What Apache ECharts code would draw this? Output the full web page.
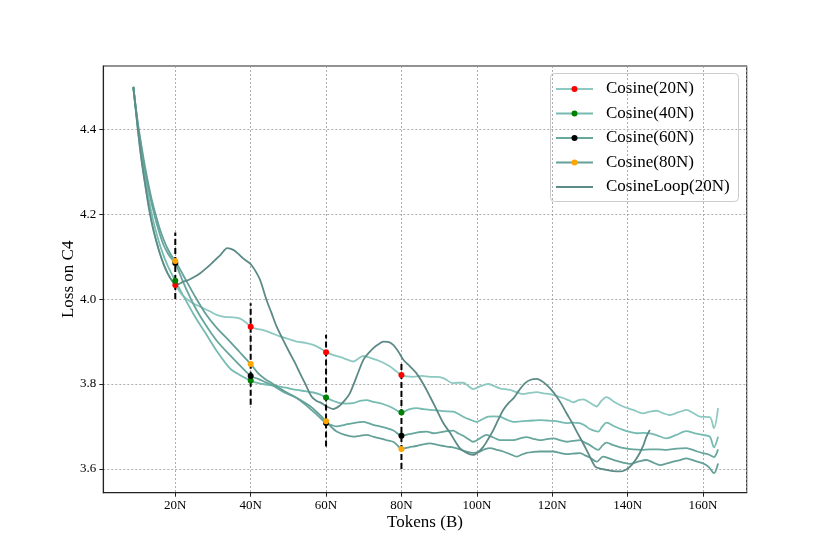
<!DOCTYPE html>
<html>
<head>
<meta charset="utf-8">
<script src="https://cdn.jsdelivr.net/npm/echarts@6/dist/echarts.min.js"></script>
<style>html,body{margin:0;padding:0;background:#fff}#chart{width:830px;height:554px}</style>
</head>
<body>
<div id="chart"></div>
<script>
// ---------- DATA ----------
const seriesNames = ['Cosine(20N)', 'Cosine(40N)', 'Cosine(60N)', 'Cosine(80N)', 'CosineLoop(20N)'];
const xTickLabels = ['20N', '40N', '60N', '80N', '100N', '120N', '140N', '160N'];
const yTickLabels = ['3.6', '3.8', '4.0', '4.2', '4.4'];

const cos20 = [[8.86,4.50],[9.5,4.45],[10,4.405],[11,4.33],[12,4.27],[13,4.215],[14,4.17],[15,4.135],[16,4.105],[17,4.08],[18,4.06],[19,4.045],[20,4.033],[21,4.02],[22,4.008],[24,3.994],[26.6,3.982],[29,3.972],[31,3.963],[33,3.958],[35.4,3.957],[37.2,3.954],[38.6,3.946],[40,3.935],[41.5,3.93],[43.3,3.927],[45.5,3.92],[47.8,3.912],[50,3.906],[52.2,3.900],[54.5,3.897],[56.6,3.892],[58.5,3.884],[60,3.875],[62,3.868],[63.7,3.864],[65.5,3.858],[67.2,3.853],[68.6,3.86],[69.9,3.866],[71.6,3.862],[73.4,3.857],[75.2,3.85],[77,3.841],[78.6,3.83],[80,3.821],[81.5,3.818],[83.1,3.817],[85.4,3.819],[87.6,3.817],[89.2,3.817],[91.1,3.814],[93.7,3.802],[95,3.803],[96.4,3.803],[97.8,3.795],[99,3.788],[101,3.795],[103,3.80],[104.6,3.795],[106.1,3.79],[108.8,3.786],[110.5,3.781],[112.3,3.776],[114,3.779],[115.9,3.781],[117.7,3.778],[119.4,3.776],[121.1,3.772],[122.9,3.767],[124.3,3.762],[125.6,3.757],[127,3.762],[128.2,3.764],[130,3.756],[131.8,3.747],[133,3.76],[134.4,3.769],[136.6,3.757],[138.8,3.747],[141.5,3.739],[144.1,3.731],[145.9,3.735],[147.7,3.737],[149.5,3.731],[151.2,3.727],[153.4,3.733],[155.6,3.739],[157.5,3.731],[159.2,3.723],[161.8,3.722],[162.9,3.696],[164,3.743]];

const cos40 = [[8.86,4.50],[10,4.41],[11,4.345],[12,4.29],[13,4.235],[14,4.19],[15,4.155],[16,4.125],[17,4.10],[18,4.078],[19,4.06],[20,4.043],[22,4.01],[25,3.962],[28,3.92],[31,3.878],[34.5,3.837],[37,3.822],[40,3.808],[41.5,3.803],[43.3,3.80],[45.5,3.797],[47.8,3.794],[50,3.79],[52.2,3.786],[54.5,3.783],[56.6,3.780],[58.5,3.775],[60,3.768],[62,3.76],[63.7,3.755],[65.5,3.754],[67.2,3.755],[69,3.76],[70.8,3.762],[72.5,3.758],[74.3,3.755],[76,3.75],[77.8,3.743],[80,3.733],[82,3.74],[84,3.743],[85.8,3.741],[87.6,3.739],[89.3,3.738],[91,3.736],[93.7,3.735],[96.4,3.723],[98.2,3.716],[99.9,3.711],[101.5,3.717],[103,3.723],[104.5,3.724],[106.1,3.723],[107.9,3.716],[109.7,3.711],[111.5,3.712],[113.2,3.713],[115,3.714],[116.7,3.715],[118.5,3.714],[120.3,3.713],[122,3.711],[123.8,3.708],[125.5,3.709],[127.3,3.708],[128.7,3.702],[130,3.694],[132.2,3.688],[133.3,3.70],[134.4,3.709],[136.6,3.700],[138.8,3.692],[140.6,3.687],[142.4,3.684],[144.2,3.685],[145.9,3.684],[148.1,3.678],[150.3,3.672],[152.9,3.68],[155.6,3.689],[157.8,3.684],[160,3.680],[161.8,3.676],[162.9,3.651],[164,3.676]];

const cos60 = [[8.86,4.50],[10,4.415],[11,4.355],[12,4.30],[13,4.255],[14,4.215],[15,4.18],[16,4.15],[17,4.125],[18,4.108],[19,4.095],[20,4.085],[22,4.042],[25,3.985],[28,3.94],[31,3.902],[34.5,3.868],[37,3.845],[40,3.819],[42,3.812],[44,3.804],[46,3.796],[48,3.785],[50,3.776],[52,3.768],[54,3.755],[56,3.74],[58,3.724],[60,3.708],[61.5,3.703],[62.8,3.700],[65,3.704],[67.2,3.708],[69.9,3.711],[72.5,3.704],[74.3,3.70],[76.1,3.696],[78,3.69],[80,3.678],[81.5,3.681],[83.1,3.684],[85,3.687],[86.7,3.688],[88.5,3.684],[90.2,3.686],[92,3.689],[93.7,3.69],[95,3.684],[96.4,3.678],[97.8,3.670],[99,3.664],[100.8,3.672],[102.6,3.680],[104.4,3.674],[106.1,3.668],[107.9,3.668],[109.7,3.668],[111.5,3.672],[113.2,3.675],[115,3.671],[116.7,3.668],[118.5,3.670],[120.3,3.672],[122,3.668],[123.8,3.664],[125.6,3.666],[127.3,3.668],[128.7,3.662],[130,3.656],[132.2,3.645],[133.3,3.655],[134.4,3.662],[136.2,3.656],[138,3.651],[139.8,3.648],[141.5,3.646],[143.7,3.645],[145.9,3.646],[148.1,3.646],[150.3,3.645],[153,3.648],[155.6,3.649],[157.8,3.643],[160,3.637],[161.5,3.634],[162.9,3.628],[164,3.646]];

const cos80 = [[8.86,4.50],[10,4.42],[11,4.362],[12,4.31],[13,4.265],[14,4.225],[15,4.192],[16,4.162],[17,4.138],[18,4.118],[19,4.102],[20,4.09],[22,4.058],[25,4.01],[28,3.966],[31,3.932],[34.5,3.90],[37,3.876],[40,3.847],[42,3.825],[43.8,3.812],[45.6,3.802],[47.4,3.792],[49.1,3.782],[50.9,3.774],[52.6,3.765],[54.4,3.756],[56.2,3.745],[58,3.73],[60,3.712],[61.5,3.698],[62.8,3.688],[65,3.68],[67.2,3.676],[69,3.678],[70.8,3.680],[72.5,3.676],[74.3,3.672],[76,3.668],[77.8,3.664],[79,3.655],[80,3.647],[82,3.651],[84,3.654],[85.8,3.658],[87.6,3.660],[89.3,3.657],[91.1,3.654],[92.4,3.652],[93.7,3.651],[95.5,3.646],[97.3,3.641],[99,3.638],[100.8,3.641],[102,3.646],[103.5,3.649],[105.3,3.645],[107,3.641],[108.8,3.635],[110.6,3.629],[112,3.634],[113.2,3.638],[115,3.640],[116.7,3.641],[118.5,3.641],[120.3,3.641],[122,3.638],[123.8,3.635],[125.5,3.636],[127.3,3.637],[128.7,3.632],[130,3.627],[131.8,3.617],[133.5,3.629],[135.3,3.624],[137.1,3.619],[138.8,3.615],[140.6,3.612],[142.8,3.617],[145,3.621],[146.8,3.615],[148.6,3.609],[150.4,3.613],[152.1,3.617],[153.9,3.621],[155.6,3.625],[157.8,3.619],[160,3.613],[161.5,3.605],[162.9,3.590],[164,3.613]];

const cosLoop20 = [[8.86,4.50],[10,4.405],[11,4.33],[12,4.27],[13,4.215],[14,4.17],[15,4.135],[16,4.105],[17,4.08],[18,4.06],[19,4.045],[20,4.035],[21,4.036],[22.1,4.041],[23.5,4.045],[25,4.052],[26.6,4.061],[28.4,4.074],[30.1,4.088],[32,4.104],[33.8,4.12],[35.4,4.116],[36.8,4.106],[38,4.096],[39.8,4.084],[41,4.07],[42.5,4.045],[44.2,3.998],[45.5,3.968],[46.9,3.935],[48.6,3.904],[50.2,3.876],[51.8,3.849],[53.1,3.825],[54.4,3.802],[56.2,3.770],[57.5,3.76],[58.8,3.755],[60.2,3.747],[61.9,3.741],[63.5,3.748],[65,3.762],[66.3,3.778],[68,3.815],[69.9,3.857],[71.2,3.872],[72.5,3.884],[73.8,3.893],[75.2,3.90],[76.5,3.899],[77.8,3.892],[79.2,3.876],[80.5,3.857],[82.2,3.842],[84,3.825],[85.8,3.80],[87.6,3.770],[89.3,3.74],[91.1,3.708],[92.9,3.685],[94.2,3.666],[95.5,3.649],[97.2,3.638],[99,3.633],[100.4,3.64],[101.7,3.652],[103,3.67],[104.4,3.692],[105.7,3.716],[107,3.739],[108.4,3.755],[109.7,3.766],[111.2,3.785],[112.8,3.802],[114.3,3.81],[115.9,3.812],[117.2,3.807],[118.5,3.798],[119.8,3.786],[121.2,3.770],[122.5,3.752],[123.8,3.731],[125.2,3.71],[126.5,3.688],[127.8,3.667],[129.1,3.645],[130.2,3.625],[131.5,3.605],[133,3.6],[134.4,3.598],[136.2,3.595],[138,3.594],[139.3,3.597],[140.6,3.605],[142,3.62],[143.2,3.637],[144.2,3.656],[145,3.676],[145.9,3.692]];

const checkpoints = [20, 40, 60, 80];
const dotRed    = [4.033, 3.935, 3.875, 3.821];
const dotGreen  = [4.043, 3.808, 3.768, 3.733];
const dotBlack  = [4.085, 3.819, 3.708, 3.678];
const dotOrange = [4.090, 3.847, 3.712, 3.647];
const dashLow   = [4.000, 3.751, 3.653, 3.600];
const dashHigh  = [4.157, 3.990, 3.916, 3.849];

// ---------- STYLE ----------
const FONT = "'Liberation Serif', 'Times New Roman', serif";
const lineColors = ['#8dc9c1', '#76bbb1', '#67a79e', '#65a098', '#5c8a86'];
const dotColors = ['#ff0000', '#008000', '#000000', '#ffa500'];
const curves = [cos20, cos40, cos60, cos80, cosLoop20];
const dotSets = [dotRed, dotGreen, dotBlack, dotOrange];

const chart = echarts.init(document.getElementById('chart'), null, {renderer: 'canvas'});

const series = [];
curves.forEach((d, i) => {
  series.push({
    name: seriesNames[i], type: 'line', data: d, showSymbol: false, symbol: 'none',
    smooth: 0.3, z: 2 + i * 0.01,
    lineStyle: {color: lineColors[i], width: 1.8}, silent: true, animation: false
  });
});
checkpoints.forEach((c, i) => {
  series.push({
    type: 'line', data: [[c, dashLow[i]], [c, dashHigh[i]]], symbol: 'none', z: 4,
    lineStyle: {color: '#000', width: 2, type: [6, 3]}, silent: true, animation: false
  });
});
dotSets.forEach((vals, k) => {
  series.push({
    type: 'scatter', data: checkpoints.map((c, i) => [c, vals[i]]), symbolSize: 6, z: 5 + k * 0.01,
    itemStyle: {color: dotColors[k], opacity: 1}, silent: true, animation: false
  });
});

// legend (drawn as graphic)
const legX = 550.5, legY = 73.5, rowH = 24.5, row0 = 89;
const legendEls = [{
  type: 'rect', shape: {x: legX, y: legY, width: 188, height: 128, r: 4},
  style: {fill: 'rgba(255,255,255,0.85)', stroke: '#cccccc', lineWidth: 1}
}];
seriesNames.forEach((n, i) => {
  const y = row0 + i * rowH;
  legendEls.push({type: 'line', shape: {x1: 556, y1: y, x2: 593, y2: y}, style: {stroke: lineColors[i], lineWidth: 2}});
  if (i < 4) legendEls.push({type: 'circle', shape: {cx: 574.5, cy: y, r: 3}, style: {fill: dotColors[i]}});
  legendEls.push({type: 'text', x: 606, y: y, style: {text: n, font: '17px ' + FONT, fill: '#000', verticalAlign: 'middle', align: 'left'}});
});

const isMult = (v, step) => Math.abs(v / step - Math.round(v / step)) < 1e-6;

chart.setOption({
  animation: false,
  backgroundColor: '#fff',
  grid: {left: 103.3, right: 83.3, top: 66, bottom: 61.3, show: true, borderColor: '#222', borderWidth: 1.1, backgroundColor: 'transparent'},
  xAxis: {
    type: 'value', min: 0.9, max: 171.6, minInterval: 20, maxInterval: 20, splitNumber: 8,
    name: 'Tokens (B)', nameLocation: 'middle', nameGap: 21, nameMoveOverlap: false,
    nameTextStyle: {fontFamily: FONT, fontSize: 17, color: '#000'},
    axisLine: {show: true, lineStyle: {color: '#222', width: 1.1}},
    axisTick: {show: true, length: 4, inside: false, lineStyle: {color: '#222', width: 1}},
    axisLabel: {
      fontFamily: FONT, fontSize: 13, color: '#000', margin: 6, showMinLabel: false, showMaxLabel: false,
      formatter: v => (isMult(v, 20) && v > 0) ? xTickLabels[Math.round(v / 20) - 1] || '' : ''
    },
    splitLine: {show: true, lineStyle: {color: '#999', width: 0.8, type: [2, 2]}}
  },
  yAxis: {
    type: 'value', min: 3.544, max: 4.549, minInterval: 0.2, maxInterval: 0.2, splitNumber: 5,
    name: 'Loss on C4', nameLocation: 'middle', nameGap: 26, nameRotate: 90, nameMoveOverlap: false,
    nameTextStyle: {fontFamily: FONT, fontSize: 17, color: '#000'},
    axisLine: {show: true, lineStyle: {color: '#222', width: 1.1}},
    axisTick: {show: true, length: 4, inside: false, lineStyle: {color: '#222', width: 1}},
    axisLabel: {
      fontFamily: FONT, fontSize: 13, color: '#000', margin: 7, showMinLabel: false, showMaxLabel: false,
      formatter: v => isMult(v, 0.2) ? (yTickLabels[Math.round((v - 3.6) / 0.2)] || '') : ''
    },
    splitLine: {show: true, lineStyle: {color: '#999', width: 0.8, type: [2, 2]}}
  },
  graphic: {elements: [{type: 'group', z: 100, children: legendEls}]},
  series: series
});
</script>
</body>
</html>
